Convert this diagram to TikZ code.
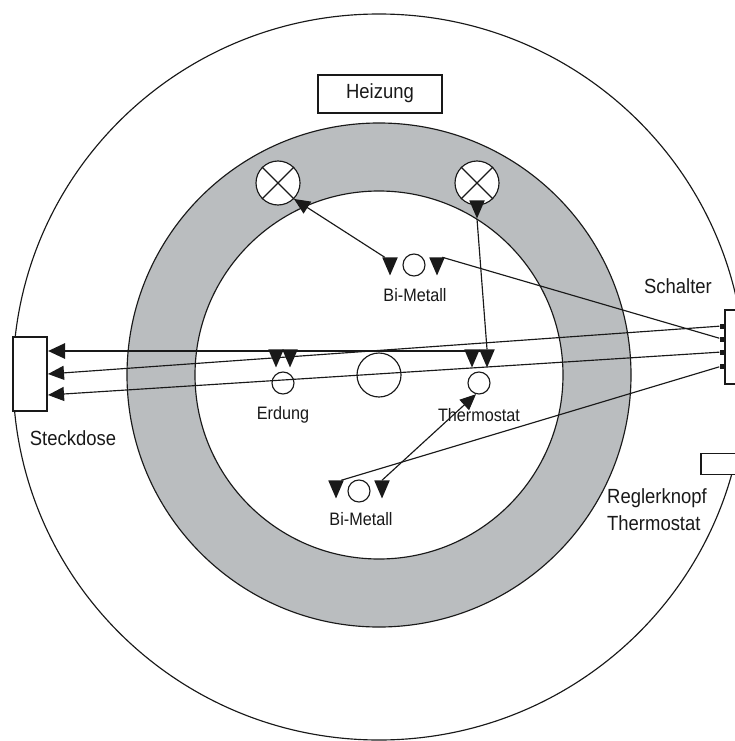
\documentclass[tikz,border=0pt]{standalone}
\usepackage{fontspec}
\usepackage{xcolor}
\usetikzlibrary{arrows.meta,shapes.geometric}
\newfontfamily\labelfont[FakeStretch=0.9]{Liberation Sans}
\definecolor{ring}{rgb}{0.73,0.74,0.75}
\definecolor{ink}{rgb}{0.1,0.1,0.1}
\tikzset{
  wire/.style={ink, line width=1.15pt},
  arrowwire/.style={wire, -{Triangle[length=16pt,width=14pt]}},
  pin/.style={isosceles triangle, isosceles triangle stretches, shape border rotate=270, fill=ink, inner sep=0pt, minimum height=18pt, minimum width=15.5pt, anchor=apex},
  port/.style={rectangle, fill=ink, inner sep=0pt, minimum width=5pt, minimum height=5pt},
  contact/.style={circle, draw=ink, line width=1.15pt, inner sep=0pt, minimum size=22pt},
  heater/.style={circle, draw=ink, fill=white, line width=1.15pt, inner sep=0pt, minimum size=44pt},
  frame/.style={rectangle, draw=ink, fill=white, line width=1.15pt, inner sep=0pt},
  biglabel/.style={text=ink, font=\labelfont\fontsize{20.5}{27}\selectfont},
  smalllabel/.style={text=ink, font=\labelfont\fontsize{18}{22}\selectfont}
}
\begin{document}
\begin{tikzpicture}[x=1pt, y=-1pt]
\useasboundingbox (0,0) rectangle (735,741);
\clip (0,0) rectangle (735,741);
% housing and heating ring
\node[ellipse, draw=ink, line width=1.15pt, inner sep=0pt, minimum width=732pt, minimum height=726pt] (housing) at (379,377) {};
\node[circle, draw=ink, fill=ring, line width=1.15pt, inner sep=0pt, minimum size=504pt] (ringouter) at (379,375) {};
\node[circle, draw=ink, fill=white, line width=1.15pt, inner sep=0pt, minimum size=368pt] (ringinner) at (379,375) {};
\node[frame, minimum width=124pt, minimum height=38pt] (heizung) at (380,94) {};
\node[biglabel] (heizunglabel) at (380,93) {Heizung};
\node[heater] (heatL) at (278,183) {};
\node[heater] (heatR) at (477,183) {};
\draw[wire] (heatL.45) -- (heatL.225);
\draw[wire] (heatL.135) -- (heatL.315);
\draw[wire] (heatR.45) -- (heatR.225);
\draw[wire] (heatR.135) -- (heatR.315);
\node[circle, draw=ink, line width=1.15pt, inner sep=0pt, minimum size=44pt] (center) at (379,375) {};
% contacts
\node[contact] (bmtop) at (414,265) {};
\node[contact] (bmlow) at (359,491) {};
\node[contact] (erdung) at (283,383) {};
\node[contact] (thermo) at (479,383) {};
% boxes at the rim
\node[frame, minimum width=34pt, minimum height=74pt] (steckdose) at (30,374) {};
\node[frame, minimum width=40pt, minimum height=74pt] (schalter) at (745,347) {};
\node[frame, minimum width=60pt, minimum height=21pt] (regler) at (731,464) {};
\coordinate (sd1) at (48,351);
\coordinate (sd2) at (48,374);
\coordinate (sd3) at (48,395);
\node[port] (sw1) at (722,326) {};
\node[port] (sw2) at (722,339) {};
\node[port] (sw3) at (722,352) {};
\node[port] (sw4) at (722,366) {};
% pins
\node[pin] (pinTopL) at (390,276) {};
\node[pin] (pinTopR) at (437,276) {};
\node[pin] (pinHeat) at (477,219) {};
\node[pin] (pinErdL) at (276,368) {};
\node[pin] (pinErdR) at (290,368) {};
\node[pin] (pinThL) at (472,368) {};
\node[pin] (pinThR) at (487,368) {};
\node[pin] (pinLowL) at (336,499) {};
\node[pin] (pinLowR) at (382,499) {};
% wires
\draw[ink, line width=2.8pt, -{Triangle[length=17pt,width=15pt]}] (pinThR.north east |- sd1) -- (sd1);
\draw[arrowwire] (sw1) -- (sd2);
\draw[arrowwire] (sw3) -- (sd3);
\draw[wire] (pinTopR.north east) -- (sw2);
\draw[wire] (pinLowL.north east) -- (sw4);
\draw[wire] (pinHeat.apex) -- (pinThR.north);
\draw[arrowwire] (pinTopL.north west) -- (heatL.-45);
\draw[arrowwire] (pinLowR.north) -- (thermo.255);
% labels
\node[smalllabel] (bmtoplabel) at (415,295) {Bi-Metall};
\node[smalllabel] (bmlowlabel) at (361,519) {Bi-Metall};
\node[smalllabel] (erdunglabel) at (283,415) {Erdung};
\node[smalllabel] (thermolabel) at (479,415) {Thermostat};
\node[biglabel] (steckdoselabel) at (73,438) {Steckdose};
\node[biglabel] (schalterlabel) at (678,286) {Schalter};
\node[biglabel, align=left, anchor=north west, inner sep=0pt] (reglerlabel) at (607,488) {Reglerknopf\\Thermostat};
\end{tikzpicture}
\end{document}
